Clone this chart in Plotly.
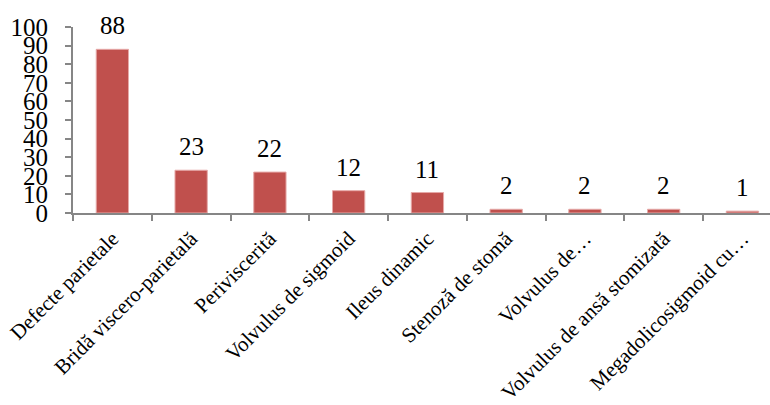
import plotly.graph_objects as go

categories = ["Defecte parietale", "Bridă viscero-parietală", "Periviscerită",
              "Volvulus de sigmoid", "Ileus dinamic", "Stenoză de stomă",
              "Volvulus de…", "Volvulus de ansă stomizată", "Megadolicosigmoid cu…"]
values = [88, 23, 22, 12, 11, 2, 2, 2, 1]
y_ticks = [0, 10, 20, 30, 40, 50, 60, 70, 80, 90, 100]

FONT = "Liberation Serif, Times New Roman, serif"

fig = go.Figure(go.Bar(
    x=categories, y=values, width=0.41,
    marker=dict(color="#C0504D", line=dict(color="#E6A9A8", width=1)),
))

for c, v in zip(categories, values):
    fig.add_annotation(x=c, y=v, text=str(v), showarrow=False, yanchor="bottom",
                       yshift=8, font=dict(family=FONT, size=25, color="black"))

fig.update_layout(
    width=770, height=405,
    margin=dict(l=73, r=0, t=27, b=192),
    plot_bgcolor="white", paper_bgcolor="white",
    showlegend=False, bargap=0.59,
    font=dict(family=FONT, color="black"),
)
fig.update_xaxes(
    range=[-0.5, 8.35], showline=True, linecolor="#868686", linewidth=2,
    ticks="outside", tickson="boundaries", ticklen=6, tickcolor="#868686", tickwidth=2,
    tickangle=-45, tickfont=dict(family=FONT, size=21, color="black"), showgrid=False,
    ticklabelstandoff=3,
)
fig.update_yaxes(
    range=[0, 100], tickvals=y_ticks, showline=True, linecolor="#868686", linewidth=2,
    ticks="outside", ticklen=6, tickcolor="#868686", tickwidth=2, showgrid=False,
    tickfont=dict(family=FONT, size=25, color="black"), zeroline=False,
    ticklabelstandoff=12,
)

fig.write_html("out.html")
